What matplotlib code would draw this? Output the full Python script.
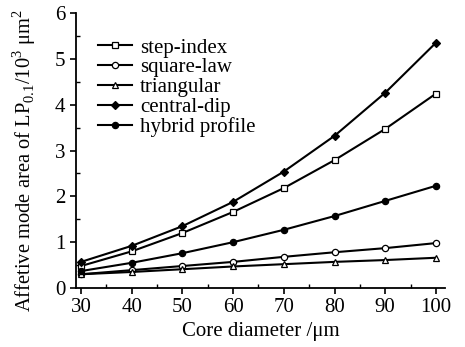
import matplotlib.pyplot as plt
from matplotlib.ticker import MultipleLocator

plt.rcParams['font.family'] = ['Liberation Serif', 'DejaVu Serif']
plt.rcParams['mathtext.fontset'] = 'custom'
plt.rcParams['mathtext.rm'] = 'Liberation Serif'

# diametro do nucleo (um)
diametro = [30, 40, 50, 60, 70, 80, 90, 100]

# area efetiva (10^3 um^2)
step_index = [0.48, 0.80, 1.20, 1.66, 2.18, 2.79, 3.47, 4.24]
square_law = [0.30, 0.39, 0.48, 0.57, 0.68, 0.78, 0.87, 0.98]
triangular = [0.30, 0.35, 0.41, 0.47, 0.52, 0.57, 0.61, 0.66]
central_dip = [0.57, 0.92, 1.35, 1.88, 2.54, 3.32, 4.26, 5.35]
hybrid = [0.37, 0.55, 0.76, 1.00, 1.27, 1.57, 1.90, 2.23]

fig = plt.figure(figsize=(4.65, 3.47), dpi=100)
ax = fig.add_axes([0.1634, 0.170, 0.7936, 0.7925])

kw = dict(color='black', lw=1.5, markersize=4.5, markeredgewidth=0.9)
ax.plot(diametro, step_index, marker='s', markerfacecolor='white', label='step-index', **kw)
ax.plot(diametro, square_law, marker='o', markerfacecolor='white', label='square-law', **kw)
ax.plot(diametro, triangular, marker='^', markerfacecolor='white', label='triangular', **kw)
ax.plot(diametro, central_dip, marker='D', markerfacecolor='black', label='central-dip', **kw)
ax.plot(diametro, hybrid, marker='o', markerfacecolor='black', label='hybrid profile', **kw)

ax.set_xlim(29, 101.8)
ax.set_ylim(0, 6)
ax.xaxis.set_major_locator(MultipleLocator(10))
ax.xaxis.set_minor_locator(MultipleLocator(5))
ax.yaxis.set_major_locator(MultipleLocator(1))
ax.yaxis.set_minor_locator(MultipleLocator(0.5))
ax.tick_params(which='major', direction='out', length=4, width=1.2, labelsize=15)
ax.tick_params(which='minor', direction='in', length=3, width=1.0)
ax.spines['top'].set_visible(False)
ax.spines['right'].set_visible(False)
ax.spines['left'].set_linewidth(1.3)
ax.spines['bottom'].set_linewidth(1.3)

ax.set_xlabel('Core diameter /\u03bcm', fontsize=15, labelpad=3)
ax.set_ylabel('Affetive mode area of LP$_{0.1}$/10$^3$ \u03bcm$^2$', fontsize=14.8)
ax.yaxis.set_label_coords(-0.103, 0.465)

ax.legend(loc='upper left', bbox_to_anchor=(0.032, 0.947), frameon=False, fontsize=15,
          handlelength=1.6, handletextpad=0.4, labelspacing=0.01, borderpad=0)

plt.savefig('out.png', dpi=100)
